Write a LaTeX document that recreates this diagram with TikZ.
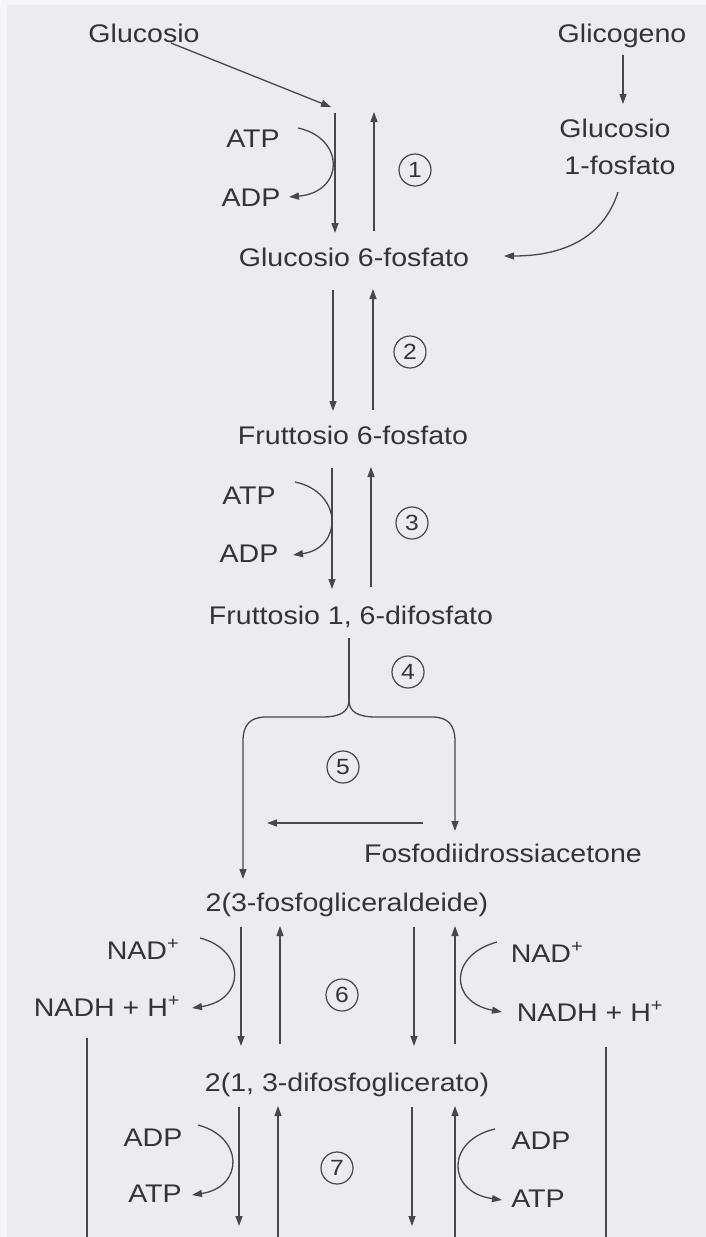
\documentclass[tikz,border=0pt]{standalone}
\usepackage{fontspec}
\setmainfont{Liberation Sans}[FakeStretch=1.12]
\usetikzlibrary{arrows.meta}
\definecolor{bg}{RGB}{236,236,240}
\definecolor{edge}{RGB}{246,246,249}
\definecolor{ink}{RGB}{52,52,56}
\definecolor{ln}{RGB}{72,72,76}
\begin{document}
\begin{tikzpicture}[x=1pt,y=-1pt,
  lbl/.style={anchor=base,inner sep=0pt,text=ink,font=\fontsize{25.5}{30}\selectfont},
  num/.style={circle,draw=ln,line width=1.2pt,minimum size=32pt,inner sep=0pt,text=ink,font=\fontsize{22}{26}\selectfont},
  arr/.style={draw=ln,line width=1.3pt,-{Triangle[length=10pt,width=7pt]}},
  plain/.style={draw=ln,line width=1.3pt}]
\fill[bg] (0,0) rectangle (706,1237);
\fill[edge] (0,0) rectangle (7,1237);
\fill[edge] (0,0) rectangle (706,5);
\useasboundingbox (0,0) rectangle (706,1237);

% text nodes
\node[lbl] (glu) at (144,42) {Glucosio};
\node[lbl] (glic) at (622,42) {Glicogeno};
\node[lbl] (g1pa) at (615,137) {Glucosio};
\node[lbl] (g1pb) at (620,174) {1-fosfato};
\node[lbl] (atp1) at (253,147) {ATP};
\node[lbl] (adp1) at (251,206) {ADP};
\node[lbl] (g6p) at (354,266) {Glucosio 6-fosfato};
\node[lbl] (f6p) at (353,444) {Fruttosio 6-fosfato};
\node[lbl] (atp3) at (249,504) {ATP};
\node[lbl] (adp3) at (249,562) {ADP};
\node[lbl] (f16) at (351,624) {Fruttosio 1, 6-difosfato};
\node[lbl] (fda) at (503,862) {Fosfodiidrossiacetone};
\node[lbl] (gap) at (347,911) {2(3-fosfogliceraldeide)};
\node[lbl] (nadl) at (143,959) {NAD\textsuperscript{+}};
\node[lbl] (nadhl) at (107,1016) {NADH + H\textsuperscript{+}};
\node[lbl] (nadr) at (547,962) {NAD\textsuperscript{+}};
\node[lbl] (nadhr) at (590,1021) {NADH + H\textsuperscript{+}};
\node[lbl] (bpg) at (347,1091) {2(1, 3-difosfoglicerato)};
\node[lbl] (adpl) at (153,1146) {ADP};
\node[lbl] (atpl) at (155,1202) {ATP};
\node[lbl] (adpr) at (541,1149) {ADP};
\node[lbl] (atpr) at (538,1207) {ATP};

% step numbers
\node[num] (c1) at (415,170) {1};
\node[num] (c2) at (410,352) {2};
\node[num] (c3) at (412,523) {3};
\node[num] (c4) at (408,672) {4};
\node[num] (c5) at (343,767) {5};
\node[num] (c6) at (342,995) {6};
\node[num] (c7) at (337,1168) {7};

% coordinates
\coordinate (gluS) at (171,43);
\coordinate (gluE) at (331,107);
\coordinate (glicS) at (623,55);
\coordinate (glicE) at (623,104);
\coordinate (d1a) at (335,113); \coordinate (d1b) at (335,233);
\coordinate (u1a) at (374,231); \coordinate (u1b) at (374,112);
\coordinate (k1a) at (298,128); \coordinate (k1b) at (289,197);
\coordinate (g1S) at (618,192); \coordinate (g1E) at (504,256);
\coordinate (d2a) at (333,290); \coordinate (d2b) at (333,411);
\coordinate (u2a) at (373,410); \coordinate (u2b) at (373,289);
\coordinate (d3a) at (332,468); \coordinate (d3b) at (332,589);
\coordinate (u3a) at (371,587); \coordinate (u3b) at (371,467);
\coordinate (k3a) at (295,482); \coordinate (k3b) at (293,555);
\coordinate (v4a) at (349,638); \coordinate (v4b) at (349,700);
\coordinate (bl) at (243,879); \coordinate (br) at (455,831);
\coordinate (h5a) at (423,823); \coordinate (h5b) at (267,823);
\coordinate (d6la) at (241,927); \coordinate (d6lb) at (241,1046);
\coordinate (u6la) at (280,1044); \coordinate (u6lb) at (280,926);
\coordinate (d6ra) at (414,927); \coordinate (d6rb) at (414,1046);
\coordinate (u6ra) at (455,1044); \coordinate (u6rb) at (455,926);
\coordinate (k6la) at (200,938); \coordinate (k6lb) at (192,1008);
\coordinate (k6ra) at (497,942); \coordinate (k6rb) at (502,1012);
\coordinate (sla) at (87,1038); \coordinate (slb) at (87,1237);
\coordinate (sra) at (606,1047); \coordinate (srb) at (606,1237);
\coordinate (d7la) at (239,1107); \coordinate (d7lb) at (239,1226);
\coordinate (u7la) at (278,1237); \coordinate (u7lb) at (278,1106);
\coordinate (d7ra) at (412,1107); \coordinate (d7rb) at (412,1226);
\coordinate (u7ra) at (455,1237); \coordinate (u7rb) at (455,1106);
\coordinate (k7la) at (198,1125); \coordinate (k7lb) at (192,1195);
\coordinate (k7ra) at (495,1129); \coordinate (k7rb) at (502,1200);

% connectors
\draw[arr] (gluS) -- (gluE);
\draw[arr] (glicS) -- (glicE);
\draw[arr] (d1a) -- (d1b);
\draw[arr] (u1a) -- (u1b);
\draw[arr] (k1a) .. controls (345,138) and (345,192) .. (k1b);
\draw[arr] (g1S) .. controls (604,236) and (566,256) .. (g1E);
\draw[arr] (d2a) -- (d2b);
\draw[arr] (u2a) -- (u2b);
\draw[arr] (d3a) -- (d3b);
\draw[arr] (u3a) -- (u3b);
\draw[arr] (k3a) .. controls (343,492) and (343,548) .. (k3b);
\draw[plain] (v4a) -- (v4b);
\draw[arr] (v4b) .. controls (349,712) and (340,717) .. (322,717) -- (266,717)
  .. controls (250,717) and (243,725) .. (243,741) -- (bl);
\draw[arr] (v4b) .. controls (349,712) and (358,717) .. (376,717) -- (432,717)
  .. controls (448,717) and (455,725) .. (455,741) -- (br);
\draw[arr] (h5a) -- (h5b);
\draw[arr] (d6la) -- (d6lb);
\draw[arr] (u6la) -- (u6lb);
\draw[arr] (d6ra) -- (d6rb);
\draw[arr] (u6ra) -- (u6rb);
\draw[arr] (k6la) .. controls (246,950) and (246,1000) .. (k6lb);
\draw[arr] (k6ra) .. controls (449,955) and (449,1002) .. (k6rb);
\draw[plain] (sla) -- (slb);
\draw[plain] (sra) -- (srb);
\draw[arr] (d7la) -- (d7lb);
\draw[arr] (u7la) -- (u7lb);
\draw[arr] (d7ra) -- (d7rb);
\draw[arr] (u7ra) -- (u7rb);
\draw[arr] (k7la) .. controls (244,1137) and (244,1187) .. (k7lb);
\draw[arr] (k7ra) .. controls (446,1140) and (446,1192) .. (k7rb);
\end{tikzpicture}
\end{document}
